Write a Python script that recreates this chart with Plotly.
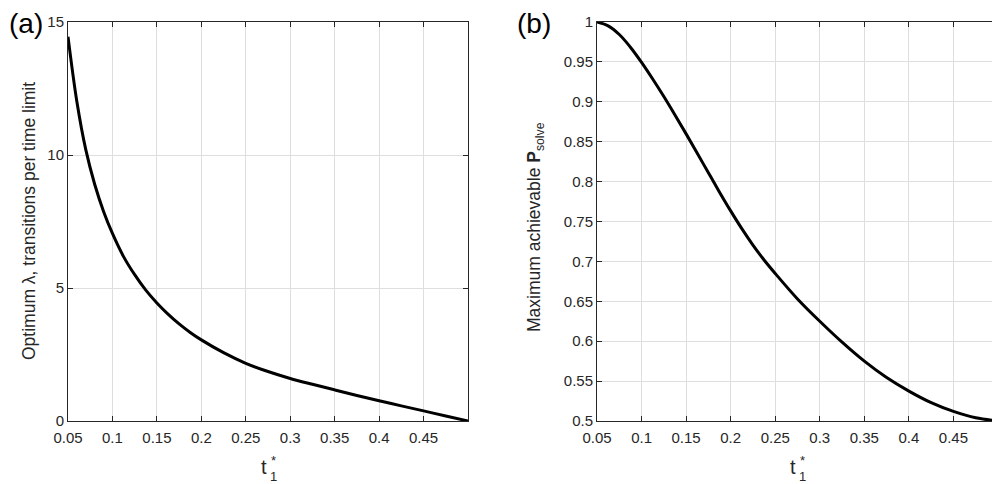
import plotly.graph_objects as go
from plotly.subplots import make_subplots

# ── Data ──────────────────────────────────────────────────────────────────────
T1_STAR = [0.05, 0.06, 0.07, 0.08, 0.09, 0.10, 0.1125, 0.125, 0.1375, 0.15, 0.1625,
           0.175, 0.1875, 0.20, 0.225, 0.25, 0.275, 0.30, 0.325, 0.35, 0.375, 0.40,
           0.425, 0.45, 0.475, 0.50]
LAMBDA_OPT = [14.45, 12.0, 10.2, 8.9, 7.88, 7.05, 6.18, 5.5, 4.92, 4.44, 4.02,
              3.65, 3.33, 3.05, 2.57, 2.17, 1.86, 1.6, 1.38, 1.17, 0.96, 0.76,
              0.57, 0.38, 0.19, 0.0]

T1_STAR_B = [0.05, 0.0625, 0.075, 0.0875, 0.10, 0.1125, 0.125, 0.1375, 0.15, 0.1625,
             0.175, 0.1875, 0.20, 0.2125, 0.225, 0.2375, 0.25, 0.275, 0.30, 0.325,
             0.35, 0.375, 0.40, 0.425, 0.45, 0.475, 0.50]
P_SOLVE_MAX = [1.000, 0.9951, 0.9843, 0.9684, 0.9494, 0.9286, 0.9066, 0.8835, 0.8598,
               0.8356, 0.8111, 0.7868, 0.7633, 0.7410, 0.7204, 0.7018, 0.6849, 0.653,
               0.625, 0.5988, 0.575, 0.5545, 0.5375, 0.523, 0.512, 0.504, 0.500]

X_TICKS = [0.05, 0.1, 0.15, 0.2, 0.25, 0.3, 0.35, 0.4, 0.45]
X_TICK_TEXT = ["0.05", "0.1", "0.15", "0.2", "0.25", "0.3", "0.35", "0.4", "0.45"]
Y_TICKS_A = [0, 5, 10, 15]
Y_TICKS_B = [0.5, 0.55, 0.6, 0.65, 0.7, 0.75, 0.8, 0.85, 0.9, 0.95, 1.0]
Y_TICK_TEXT_B = ["0.5", "0.55", "0.6", "0.65", "0.7", "0.75", "0.8", "0.85", "0.9", "0.95", "1"]

# ── Style ─────────────────────────────────────────────────────────────────────
AXIS_DARK = "#262626"
GRID_GREY = "#dedede"
FONT = "Liberation Sans, Arial, sans-serif"

OFF = 8                       # page body margin; positions below are page pixels
W, H = 1000 - OFF, 484 - OFF
TOP, BOTTOM = 22, 421         # plot area rows on the page


def px(pix):
    """page column -> paper x"""
    return (pix - OFF) / W


def py(pix):
    """page row -> paper y"""
    return (BOTTOM - pix) / (BOTTOM - TOP)


def _axis_style():
    return dict(
        showline=True, linecolor=AXIS_DARK, linewidth=1, mirror="allticks",
        ticks="inside", ticklen=5, tickwidth=1, tickcolor=AXIS_DARK,
        showgrid=True, gridcolor=GRID_GREY, gridwidth=1, zeroline=False,
        automargin=False,
        tickfont=dict(size=15, color=AXIS_DARK, family=FONT),
    )


def _label(text, x_pix, y_pix, size, angle=0, anchor="center", color=AXIS_DARK):
    return dict(text=text, x=max(px(x_pix), 0), y=py(y_pix), xref="paper", yref="paper",
                xanchor=anchor, yanchor="middle", textangle=angle, showarrow=False,
                borderpad=0, font=dict(size=size, color=color, family=FONT))


fig = make_subplots(rows=1, cols=2)

fig.add_trace(go.Scatter(x=T1_STAR, y=LAMBDA_OPT, mode="lines",
                         line=dict(color="black", width=3, shape="spline", smoothing=1.0),
                         showlegend=False), row=1, col=1)
fig.add_trace(go.Scatter(x=T1_STAR_B, y=P_SOLVE_MAX, mode="lines",
                         line=dict(color="black", width=3, shape="spline", smoothing=1.0),
                         showlegend=False), row=1, col=2)

fig.update_xaxes(domain=[px(68), px(468)], range=[0.05, 0.5], ticklabelstandoff=3,
                 tickvals=X_TICKS, ticktext=X_TICK_TEXT, **_axis_style(), row=1, col=1)
fig.update_xaxes(domain=[px(597), min(px(998), 1)], range=[0.05, 0.5], ticklabelstandoff=3,
                 tickvals=X_TICKS, ticktext=X_TICK_TEXT, **_axis_style(), row=1, col=2)
fig.update_yaxes(domain=[0, 1], range=[0, 15], tickvals=Y_TICKS_A,
                 **_axis_style(), row=1, col=1)
fig.update_yaxes(domain=[0, 1], range=[0.5, 1.0], tickvals=Y_TICKS_B,
                 ticktext=Y_TICK_TEXT_B, **_axis_style(), row=1, col=2)

ann = [
    _label("(a)", 2, 23, 28, anchor="left", color="black"),
    _label("(b)", 516, 23, 28, anchor="left", color="black"),
    _label("Optimum λ, transitions per time limit", 29, 221, 17.5, angle=-90),
    _label("Maximum achievable <b>P</b><sub>solve</sub>", 535, 227, 17.5, angle=-90),
]
# x titles: t with the * and the 1 stacked after it
for cx in (264, 793):
    ann.append(_label("t", cx, 467, 20))
    ann.append(_label("1", cx + 9, 476, 13))
    ann.append(_label("*", cx + 9, 460, 13))

fig.update_layout(
    width=W, height=H,
    margin=dict(l=0, r=0, t=TOP - OFF, b=OFF + H - BOTTOM, autoexpand=False),
    paper_bgcolor="white", plot_bgcolor="white",
    font=dict(family=FONT, color=AXIS_DARK),
    annotations=ann,
)

fig.write_html("out.html")
